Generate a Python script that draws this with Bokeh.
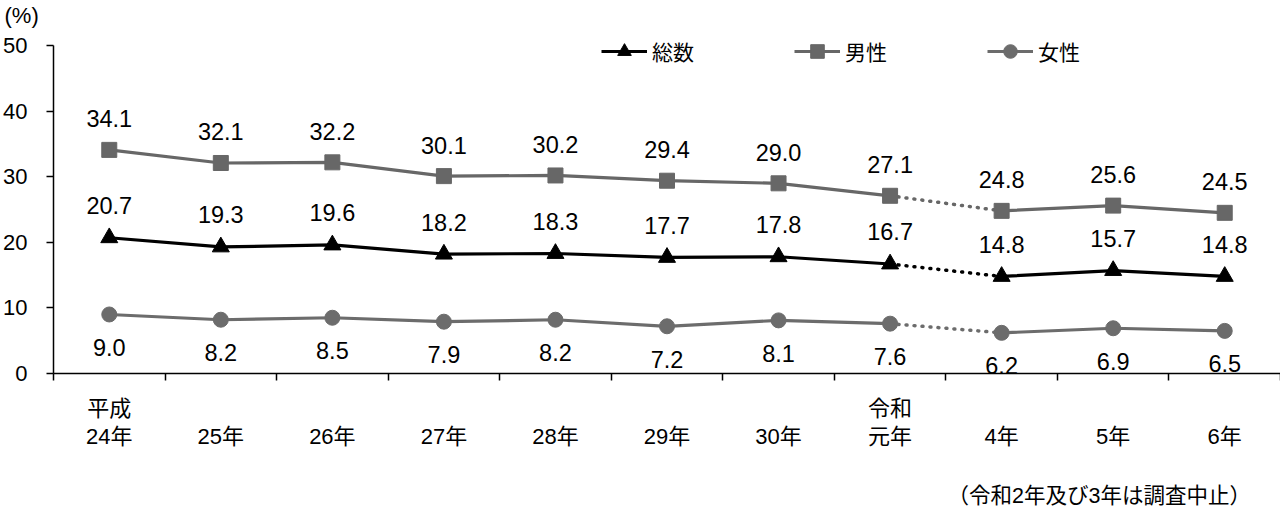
from bokeh.plotting import figure
from bokeh.models import Range1d, FixedTicker, LinearAxis, Legend, LegendItem, Title
from bokeh.core.properties import value
from bokeh.embed import file_html
from bokeh.resources import INLINE

# ---- data ----
year_top = ["平成", "", "", "", "", "", "", "令和", "", "", ""]
year_bottom = ["24年", "25年", "26年", "27年", "28年", "29年", "30年", "元年", "4年", "5年", "6年"]
total = [20.7, 19.3, 19.6, 18.2, 18.3, 17.7, 17.8, 16.7, 14.8, 15.7, 14.8]
male = [34.1, 32.1, 32.2, 30.1, 30.2, 29.4, 29.0, 27.1, 24.8, 25.6, 24.5]
female = [9.0, 8.2, 8.5, 7.9, 8.2, 7.2, 8.1, 7.6, 6.2, 6.9, 6.5]
series_names = ["総数", "男性", "女性"]
y_ticks = [0, 10, 20, 30, 40, 50]
suspended_after = "元年"   # 令和2年・3年 survey suspended
note = "（令和2年及び3年は調査中止）"
y_unit = "(%)"

# ---- styles / layout ----
FONT = "Liberation Sans, Noto Sans CJK JP"
styles = {
    "総数": dict(color="black", marker="triangle", size=17, lw=3.2, dy=-32),
    "男性": dict(color="#676767", marker="square", size=15, lw=3.2, dy=-31),
    "女性": dict(color="#6c6c6c", marker="circle", size=15, lw=3.2, dy=33),
}
y_headroom = 2          # extra room above the 50 line for the legend
note_anchor_x = 8.875   # horizontal centre of the footnote (x-axis units)

n = len(year_bottom)
xs = list(range(n))
bounds = [i - 0.5 for i in range(n + 1)]
k = year_bottom.index(suspended_after)

p = figure(width=1280, height=510, x_range=Range1d(-0.5, n - 0.5),
           y_range=Range1d(y_ticks[0], y_ticks[-1] + y_headroom),
           output_backend="svg", toolbar_location=None, x_axis_type=None,
           min_border_left=49, min_border_right=0, min_border_top=32, min_border_bottom=136)
p.grid.visible = False
p.outline_line_color = None
p.background_fill_color = "white"

yax = p.yaxis[0]
yax.ticker = FixedTicker(ticks=y_ticks)
yax.bounds = (y_ticks[0], y_ticks[-1])
yax.major_tick_out = 7
yax.major_tick_in = 0
yax.minor_tick_out = 0
yax.minor_tick_in = 0
yax.axis_line_width = 1.5
yax.axis_line_color = "black"
yax.major_tick_line_color = "black"
yax.major_tick_line_width = 1.5
yax.major_label_text_font = FONT
yax.major_label_text_font_size = "22px"
yax.major_label_text_color = "black"
yax.major_label_standoff = 19

ax1 = LinearAxis(ticker=FixedTicker(ticks=xs, minor_ticks=bounds),
                 major_label_overrides={i: (t if t else " ") for i, t in zip(xs, year_top)},
                 major_tick_out=0, major_tick_in=0, minor_tick_out=7, minor_tick_in=0,
                 axis_line_width=1.5, axis_line_color="black",
                 minor_tick_line_color="black", minor_tick_line_width=1.5,
                 major_label_standoff=15, major_label_text_font=FONT,
                 major_label_text_font_size="22px", major_label_text_color="black")
p.add_layout(ax1, "below")
ax2 = LinearAxis(ticker=FixedTicker(ticks=xs, minor_ticks=[]),
                 major_label_overrides={i: t for i, t in zip(xs, year_bottom)},
                 axis_line_color=None, major_tick_line_color=None, minor_tick_line_color=None,
                 major_label_standoff=-6, major_label_text_font=FONT,
                 major_label_text_font_size="22px", major_label_text_color="black")
p.add_layout(ax2, "below")
ax3 = LinearAxis(ticker=FixedTicker(ticks=[note_anchor_x], minor_ticks=[]),
                 major_label_overrides={note_anchor_x: note},
                 axis_line_color=None, major_tick_line_color=None, minor_tick_line_color=None,
                 major_label_standoff=26, major_label_text_font=FONT,
                 major_label_text_font_size="21.5px", major_label_text_color="black")
p.add_layout(ax3, "below")

p.add_layout(Title(text=y_unit, align="left", offset=-49, text_font=FONT, text_font_size="22px",
                   text_font_style="normal", text_color="black", standoff=5,
                   vertical_align="top"), "above")

items = []
for name, vals in zip(series_names, [total, male, female]):
    s = styles[name]
    l1 = p.line(xs[:k + 1], vals[:k + 1], line_color=s["color"], line_width=s["lw"])
    p.line(xs[k + 1:], vals[k + 1:], line_color=s["color"], line_width=s["lw"])
    p.line(xs[k:k + 2], vals[k:k + 2], line_color=s["color"], line_width=3.5,
           line_dash="1 7", line_cap="round")
    sc = p.scatter(xs, vals, marker=s["marker"], size=s["size"], fill_color=s["color"],
                   line_color=s["color"])
    p.text(xs, vals, text=[f"{v:.1f}" for v in vals], y_offset=s["dy"], text_align="center",
           text_baseline="middle", text_font=value(FONT), text_font_size="23.5px", text_color="black")
    items.append(LegendItem(label=name, renderers=[l1, sc]))

legend = Legend(items=items, orientation="horizontal", location=(548, 305),
                glyph_width=46, glyph_height=34, label_standoff=5, spacing=100,
                padding=0, margin=0, border_line_color=None, background_fill_alpha=0,
                label_text_font=FONT, label_text_font_size="21px", label_text_color="black")
p.add_layout(legend)

open("out.html", "w").write(file_html(p, INLINE))
